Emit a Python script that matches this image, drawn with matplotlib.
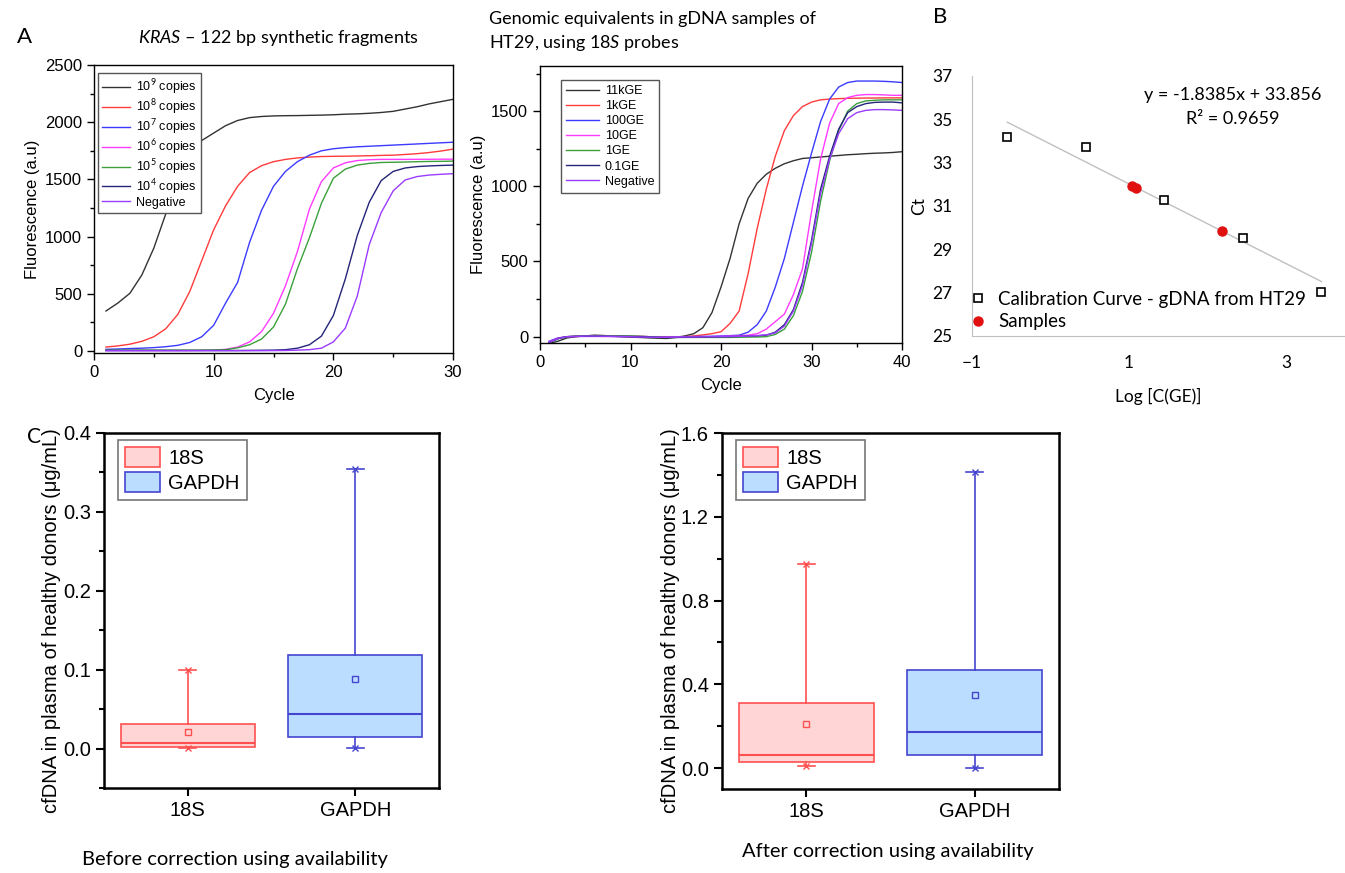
import numpy as np
import matplotlib.pyplot as plt
from matplotlib.patches import Patch
from matplotlib.ticker import MultipleLocator

plt.rcParams['font.family'] = ['Liberation Sans', 'DejaVu Sans']
plt.rcParams['mathtext.fontset'] = 'custom'
plt.rcParams['mathtext.rm'] = 'Lato'
plt.rcParams['mathtext.it'] = 'Lato:italic'

# ---- panel A (left): KRAS synthetic fragments, cycles 1..30
cycles_kras = np.arange(1, 31)
kras_1e9 = [350, 420, 505, 665, 900, 1200, 1500, 1720, 1840, 1905, 1970, 2015, 2040, 2050, 2055,
            2057, 2058, 2060, 2062, 2065, 2070, 2073, 2078, 2085, 2095, 2115, 2135, 2160, 2180, 2200]
kras_1e8 = [35, 45, 60, 85, 125, 195, 320, 520, 790, 1060, 1270, 1440, 1560, 1620, 1655,
            1675, 1688, 1695, 1700, 1702, 1703, 1705, 1707, 1710, 1712, 1718, 1725, 1735, 1748, 1765]
kras_1e7 = [15, 18, 22, 25, 30, 38, 50, 75, 125, 225, 420, 600, 950, 1230, 1440,
            1570, 1655, 1712, 1750, 1768, 1778, 1785, 1790, 1795, 1800, 1805, 1810, 1815, 1820, 1825]
kras_1e6 = [5, 5, 5, 5, 5, 5, 5, 5, 6, 8, 15, 35, 80, 170, 330,
            570, 870, 1240, 1480, 1600, 1645, 1665, 1672, 1675, 1675, 1675, 1676, 1676, 1677, 1677]
kras_1e5 = [8, 8, 8, 8, 8, 8, 8, 8, 8, 9, 12, 28, 55, 105, 210,
            410, 720, 990, 1290, 1510, 1590, 1625, 1640, 1648, 1650, 1652, 1655, 1657, 1658, 1660]
kras_1e4 = [5, 5, 5, 5, 5, 5, 5, 5, 5, 5, 5, 5, 6, 7, 8,
            12, 25, 55, 130, 310, 630, 1010, 1300, 1490, 1570, 1600, 1612, 1618, 1622, 1625]
kras_neg = [3, 3, 3, 3, 3, 3, 3, 3, 3, 3, 3, 3, 3, 3, 4,
            5, 8, 12, 25, 80, 200, 480, 930, 1210, 1400, 1495, 1525, 1538, 1545, 1550]
kras_labels = [r'10$^{9}$ copies', r'10$^{8}$ copies', r'10$^{7}$ copies', r'10$^{6}$ copies',
               r'10$^{5}$ copies', r'10$^{4}$ copies', 'Negative']

# ---- panel A (right): genomic equivalents, cycles 1..40
cycles_ge = np.arange(1, 41)
ge_11k = [-45, -30, -8, 0, 5, 10, 8, 3, 0, -3, -5, -8, -10, -12, -5, 5, 20, 60, 160, 330,
          520, 750, 920, 1020, 1080, 1120, 1150, 1170, 1185, 1190, 1195, 1200, 1205, 1210, 1213, 1217, 1220, 1222, 1225, 1230]
ge_1k = [-35, -10, 0, 2, 3, 3, 2, 2, 2, 2, 2, 0, -2, -3, -3, 0, 5, 12, 20, 33,
         88, 170, 420, 720, 980, 1200, 1370, 1470, 1530, 1560, 1575, 1580, 1583, 1585, 1586, 1587, 1587, 1588, 1588, 1588]
ge_100 = [-30, -8, 0, 2, 2, 2, 2, 2, 1, 1, 1, 0, 0, 0, 0, 0, 1, 2, 3, 5,
          7, 10, 30, 80, 170, 330, 520, 760, 1000, 1220, 1430, 1580, 1660, 1690, 1700, 1700, 1700, 1698, 1695, 1690]
ge_10 = [-35, -10, 0, 2, 2, 2, 2, 2, 2, 2, 2, 0, 0, 0, 0, 0, 0, 0, 0, 2,
         4, 6, 10, 20, 50, 100, 150, 280, 450, 830, 1180, 1420, 1550, 1590, 1605, 1610, 1610, 1608, 1605, 1605]
ge_1 = [-40, -15, 0, 3, 5, 5, 5, 5, 5, 5, 3, 0, -3, -5, -5, -5, -5, -5, -5, -5,
        -5, -4, -3, -2, 0, 15, 50, 140, 300, 560, 900, 1170, 1370, 1500, 1550, 1568, 1572, 1575, 1575, 1575]
ge_01 = [-40, -12, 0, 2, 3, 3, 3, 2, 2, 1, 0, -2, -4, -5, -5, -4, -3, -2, -1, 0,
         0, 2, 4, 6, 10, 30, 80, 180, 360, 640, 980, 1200, 1380, 1490, 1530, 1550, 1558, 1560, 1560, 1555]
ge_neg = [-38, -12, 0, 2, 4, 4, 3, 2, 1, 0, -2, -3, -4, -4, -3, -2, -2, -1, 0, 0,
          1, 2, 4, 8, 12, 25, 70, 170, 340, 620, 950, 1180, 1350, 1450, 1490, 1505, 1510, 1510, 1508, 1505]
ge_labels = ['11kGE', '1kGE', '100GE', '10GE', '1GE', '0.1GE', 'Negative']

curve_colors = ['#333333', '#ff3b3b', '#3b3bff', '#ff3bff', '#3ba03b', '#24247a', '#9a3bff']

# ---- panel B: calibration curve
calib_x = [-0.55, 0.45, 1.45, 2.45, 3.45]
calib_ct = [34.17, 33.71, 31.28, 29.51, 27.05]
sample_x = [1.04, 1.09, 2.18]
sample_ct = [31.94, 31.85, 29.85]
fit_slope, fit_icpt = -1.8385, 33.856

# ---- panel C: boxplots
genes = ['18S', 'GAPDH']
before_min = [0.001, 0.0005]
before_q1 = [0.0025, 0.0152]
before_med = [0.0067, 0.0432]
before_mean = [0.0207, 0.088]
before_q3 = [0.031, 0.1185]
before_max = [0.099, 0.355]
after_min = [0.011, 0.001]
after_q1 = [0.027, 0.060]
after_med = [0.064, 0.172]
after_mean = [0.209, 0.349]
after_q3 = [0.309, 0.470]
after_max = [0.976, 1.416]
box_face = ['#ffd5d5', '#bbddff']
box_edge = ['#ff5050', '#4545d0']

W, H = 1345, 873
fig = plt.figure(figsize=(W / 100, H / 100), dpi=100)


def rect(x0, y0, x1, y1):
    return [x0 / W, 1 - y1 / H, (x1 - x0) / W, (y1 - y0) / H]


def ftext(x, y, s, **kw):
    fig.text(x / W, 1 - y / H, s, **kw)


def style_origin(ax, lw=1.0, size=12):
    for sp in ax.spines.values():
        sp.set_linewidth(lw)
    ax.tick_params(which='major', direction='out', length=5, width=lw, labelsize=size)
    ax.tick_params(which='minor', direction='out', length=3, width=lw)


# A left
ax1 = fig.add_axes(rect(94, 65, 453, 353))
for ys, c, lab in zip([kras_1e9, kras_1e8, kras_1e7, kras_1e6, kras_1e5, kras_1e4, kras_neg],
                      curve_colors, kras_labels):
    ax1.plot(cycles_kras, ys, color=c, lw=1.0, label=lab)
ax1.set_xlim(0, 30)
ax1.set_ylim(-17, 2500)
ax1.xaxis.set_major_locator(MultipleLocator(10))
ax1.xaxis.set_minor_locator(MultipleLocator(5))
ax1.yaxis.set_major_locator(MultipleLocator(500))
ax1.yaxis.set_minor_locator(MultipleLocator(250))
style_origin(ax1)
ax1.set_xlabel('Cycle', fontsize=12, labelpad=6)
ax1.set_ylabel('Fluorescence (a.u)', fontsize=12, labelpad=4)
leg = ax1.legend(loc='upper left', bbox_to_anchor=(98 / W, 1 - 73 / H), bbox_transform=fig.transFigure,
                 borderaxespad=0, fontsize=9, handlelength=2.2, handletextpad=0.5, labelspacing=0.08,
                 fancybox=False, framealpha=1, edgecolor='#555555', borderpad=0.35)
leg.get_frame().set_linewidth(1.0)

# A right
ax2 = fig.add_axes(rect(540, 66, 902, 343))
for ys, c, lab in zip([ge_11k, ge_1k, ge_100, ge_10, ge_1, ge_01, ge_neg], curve_colors, ge_labels):
    ax2.plot(cycles_ge, ys, color=c, lw=1.0, label=lab)
ax2.set_xlim(0, 40)
ax2.set_ylim(-42, 1800)
ax2.xaxis.set_major_locator(MultipleLocator(10))
ax2.xaxis.set_minor_locator(MultipleLocator(5))
ax2.yaxis.set_major_locator(MultipleLocator(500))
ax2.yaxis.set_minor_locator(MultipleLocator(250))
style_origin(ax2)
ax2.set_xlabel('Cycle', fontsize=12, labelpad=6)
ax2.set_ylabel('Fluorescence (a.u)', fontsize=12, labelpad=4)
leg = ax2.legend(loc='upper left', bbox_to_anchor=(561 / W, 1 - 80 / H), bbox_transform=fig.transFigure,
                 borderaxespad=0, fontsize=9, handlelength=2.6, handletextpad=0.5, labelspacing=0.25,
                 fancybox=False, framealpha=1, edgecolor='#555555', borderpad=0.4)
leg.get_frame().set_linewidth(1.0)

ftext(17, 37, 'A', fontsize=16, family='Lato', va='center', ha='left')
ftext(278, 38, r'$\it{KRAS}$ – 122 bp synthetic fragments', fontsize=13, family='Lato',
      ha='center', va='center')
ftext(489, 11, 'Genomic equivalents in gDNA samples of\nHT29, using $\\it{18S}$ probes', fontsize=13,
      family='Lato', ha='left', va='top', linespacing=1.4)

# B
axb = fig.add_axes(rect(972, 76, 1345, 336))
fit_x = np.array([calib_x[0], calib_x[-1]])
axb.plot(fit_x, fit_slope * fit_x + fit_icpt, color='#c0c0c0', lw=1.0)
axb.plot(calib_x, calib_ct, ls='none', marker='s', ms=6, mfc='white', mec='black', mew=1.2,
         label='Calibration Curve - gDNA from HT29')
axb.plot(sample_x, sample_ct, ls='none', marker='o', ms=6.5, mfc='#e01010', mec='#e01010',
         label='Samples')
axb.set_xlim(-1, 3.75)
axb.set_ylim(25, 37)
axb.set_xticks([-1, 1, 3])
axb.set_yticks([25, 27, 29, 31, 33, 35, 37])
for s in ['top', 'right']:
    axb.spines[s].set_visible(False)
for s in ['left', 'bottom']:
    axb.spines[s].set_color('#bfbfbf')
axb.tick_params(length=0, labelsize=12.5, pad=14)
for t in axb.get_xticklabels() + axb.get_yticklabels():
    t.set_family('Lato')
axb.set_xlabel('Log [C(GE)]', fontsize=12.5, family='Lato', labelpad=12)
axb.set_ylabel('Ct', fontsize=12.5, family='Lato', labelpad=4)
axb.text(0.70, 0.88, 'y = -1.8385x + 33.856\nR² = 0.9659', transform=axb.transAxes, fontsize=13,
         family='Lato', ha='center', va='center', linespacing=1.6)
axb.legend(loc='lower left', bbox_to_anchor=(961 / W, 1 - 338 / H), bbox_transform=fig.transFigure,
           borderaxespad=0, frameon=False, handlelength=1.0, handletextpad=0.6, labelspacing=0.3,
           prop={'family': 'Lato', 'size': 13.5})
ftext(933, 17, 'B', fontsize=16, family='Lato', va='center', ha='left')


# C
def box_panel(box, mins, q1s, meds, means, q3s, maxs, ylim, major, minor, caption, cap_xy, ylab_x):
    ax = fig.add_axes(box)
    for i in range(len(genes)):
        st = [dict(med=meds[i], q1=q1s[i], q3=q3s[i], whislo=mins[i], whishi=maxs[i],
                   mean=means[i], label=genes[i])]
        ec = box_edge[i]
        ax.bxp(st, positions=[i + 1], widths=0.8, patch_artist=True, showmeans=True,
               showfliers=False, capwidths=[0.1],
               boxprops=dict(facecolor=box_face[i], edgecolor=ec, lw=1.2),
               whiskerprops=dict(color=ec, lw=1.2), capprops=dict(color=ec, lw=1.2),
               medianprops=dict(color=ec, lw=1.5),
               meanprops=dict(marker='s', ms=4, mfc='none', mec=ec, mew=1.0))
        ax.plot([i + 1, i + 1], [mins[i], maxs[i]], ls='none', marker='x', ms=4, color=ec, mew=1.0)
    ax.set_xlim(0.5, 2.5)
    ax.set_ylim(*ylim)
    ax.set_xticks([1, 2])
    ax.set_xticklabels(genes)
    ax.yaxis.set_major_locator(MultipleLocator(major))
    ax.yaxis.set_minor_locator(MultipleLocator(minor))
    for sp in ax.spines.values():
        sp.set_linewidth(1.8)
    ax.tick_params(which='major', direction='out', length=6, width=1.5, labelsize=14.5)
    ax.tick_params(which='minor', direction='out', length=3.5, width=1.5)
    handles = [Patch(facecolor=box_face[i], edgecolor=box_edge[i], lw=1.2, label=genes[i])
               for i in range(len(genes))]
    x0 = box[0] * W
    y0 = (1 - box[1] - box[3]) * H
    leg = ax.legend(handles=handles, loc='upper left',
                    bbox_to_anchor=((x0 + 14) / W, 1 - (y0 + 7) / H), bbox_transform=fig.transFigure,
                    borderaxespad=0, fancybox=False, framealpha=1, edgecolor='#777777',
                    handlelength=1.75, handleheight=1.15, labelspacing=0.2, handletextpad=0.4,
                    borderpad=0.35, fontsize=14.5)
    leg.get_frame().set_linewidth(1.2)
    ftext(ylab_x, y0 + box[3] * H / 2 + 10, 'cfDNA in plasma of healthy donors (μg/mL)',
          rotation=90, fontsize=14.5, ha='center', va='center')
    ftext(cap_xy[0], cap_xy[1], caption, fontsize=14.5, family='Lato', ha='center', va='center')
    return ax


box_panel(rect(104, 433, 439, 788), before_min, before_q1, before_med, before_mean, before_q3,
          before_max, (-0.05, 0.4), 0.1, 0.05, 'Before correction using availability', (235, 860), 52)
box_panel(rect(722, 433, 1059, 789), after_min, after_q1, after_med, after_mean, after_q3,
          after_max, (-0.1, 1.6), 0.4, 0.2, 'After correction using availability', (888, 852), 671)
ftext(27, 437, 'C', fontsize=15, family='Lato', va='center', ha='left')

fig.savefig('out.png', dpi=100)
